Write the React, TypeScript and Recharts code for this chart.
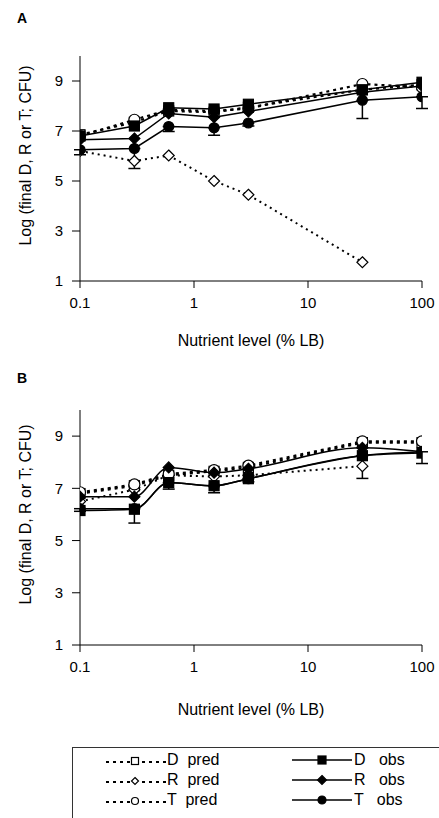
import React from "react"
import { LineChart, Line, XAxis, YAxis, ErrorBar } from "recharts"

// nutrient levels (% LB) shared by both panels
const nutrient = [0.1, 0.3, 0.6, 1.5, 3, 30, 100]
const xTicks = [0.1, 1, 10, 100]
const yTicks = [1, 3, 5, 7, 9]

// panel A
const aDPred = [6.85, 7.35, 7.8, 7.75, 7.95, 8.65, 8.85]
const aRPred = [6.2, 5.8, 6.02, 5.0, 4.45, 1.75, null]
const aTPred = [6.8, 7.45, 7.85, 7.8, 7.9, 8.88, 8.75]
const aDObs = [6.8, 7.2, 7.93, 7.88, 8.07, 8.65, 8.95]
const aRObs = [6.65, 6.7, 7.7, 7.55, 7.78, 8.55, 8.8]
const aTObs = [6.25, 6.3, 7.18, 7.13, 7.32, 8.23, 8.37]
const aTErr = [0.2, 0.8, 0.2, 0.3, 0.12, 0.73, 0.47]

// panel B
const bDPred = [6.8, 7.1, 7.5, 7.65, 7.8, 8.75, 8.75]
const bRPred = [6.5, 6.95, 7.5, 7.45, 7.5, 7.85, null]
const bTPred = [6.85, 7.15, 7.55, 7.7, 7.87, 8.8, 8.8]
const bDObs = [6.15, 6.2, 7.22, 7.1, 7.37, 8.25, 8.35]
const bRObs = [6.68, 6.68, 7.8, 7.6, 7.75, 8.55, 8.4]
const bTObs = [6.22, 6.22, 7.22, 7.1, 7.37, 8.25, 8.4]
const bTErr = [0.1, 0.55, 0.25, 0.27, 0.12, 0.87, 0.45]

const FONT = '"Liberation Sans", Arial, sans-serif'
const yTitle = "Log (final D, R or T; CFU)"
const xTitle = "Nutrient level (% LB)"

type Col = (number | null)[]

// error bars only hang below the observed points
function buildRows(dp: Col, rp: Col, tp: Col, d: Col, r: Col, t: Col, te: number[]) {
  return nutrient.map((x, i) => ({
    x,
    dPred: dp[i],
    rPred: rp[i],
    tPred: tp[i],
    dObs: d[i],
    rObs: r[i],
    tObs: t[i],
    tErr: [te[i], 0],
  }))
}

const rowsA = buildRows(aDPred, aRPred, aTPred, aDObs, aRObs, aTObs, aTErr)
const rowsB = buildRows(bDPred, bRPred, bTPred, bDObs, bRObs, bTObs, bTErr)

type Shape = "square" | "diamond" | "circle"

function glyph(shape: Shape, filled: boolean, cx: number, cy: number, r: number, key?: string) {
  const fill = filled ? "#000" : "#fff"
  if (shape === "square")
    return <rect key={key} x={cx - r} y={cy - r} width={2 * r} height={2 * r} fill={fill} stroke="#000" strokeWidth={1.2} />
  if (shape === "diamond")
    return (
      <polygon
        key={key}
        points={`${cx},${cy - r} ${cx + r},${cy} ${cx},${cy + r} ${cx - r},${cy}`}
        fill={fill}
        stroke="#000"
        strokeWidth={1.2}
      />
    )
  return <circle key={key} cx={cx} cy={cy} r={r} fill={fill} stroke="#000" strokeWidth={1.2} />
}

const marker = (shape: Shape, filled: boolean, r: number) => (p: any) => {
  const key = `${shape}-${filled}-${p.index}`
  if (p.cx == null || p.cy == null || p.value == null) return <g key={key} />
  return glyph(shape, filled, p.cx, p.cy, r, key)
}

const YTitle = (props: any) => {
  const vb = props.viewBox || { x: 0, y: 0, height: 0 }
  const x = vb.x + 5
  const y = vb.y + vb.height / 2 - 13
  return (
    <text x={x} y={y} transform={`rotate(-90 ${x} ${y})`} textAnchor="middle" dominantBaseline="central" fontSize={16} fill="#000" fontFamily={FONT}>
      {yTitle}
    </text>
  )
}

type PanelProps = { rows: any[]; top: number; marginTop: number; plotHeight: number; xAxisHeight: number; smooth: boolean }

function Panel({ rows, top, marginTop, plotHeight, xAxisHeight, smooth }: PanelProps) {
  const height = marginTop + plotHeight + xAxisHeight
  const obsCurve = smooth ? "monotone" : "linear"
  const tick = { fontSize: 15, fill: "#000", fontFamily: FONT }
  return (
    <div style={{ position: "absolute", left: 0, top, width: 439, height }}>
      <LineChart width={439} height={height} data={rows} margin={{ top: marginTop, right: 17, left: 20, bottom: 0 }}>
        <XAxis
          dataKey="x"
          type="number"
          scale="log"
          domain={[0.1, 100]}
          ticks={xTicks}
          allowDataOverflow
          height={xAxisHeight}
          stroke="#000"
          tickSize={7}
          tickMargin={9}
          tick={tick}
          tickFormatter={(v: number) => String(v)}
          label={{ value: xTitle, position: "insideBottom", offset: 6, fontSize: 16, fill: "#000", fontFamily: FONT }}
        />
        <YAxis
          type="number"
          domain={[1, 10]}
          ticks={yTicks}
          allowDataOverflow
          width={60}
          stroke="#000"
          tickSize={8}
          tickMargin={9}
          tick={tick}
          label={<YTitle />}
        />
        <Line dataKey="dPred" type="linear" stroke="#000" strokeWidth={2.2} strokeDasharray="3 4" dot={marker("square", false, 5)} isAnimationActive={false} />
        <Line dataKey="rPred" type="linear" stroke="#000" strokeWidth={2} strokeDasharray="2 4" dot={marker("diamond", false, 5.5)} isAnimationActive={false} />
        <Line dataKey="tPred" type="linear" stroke="#000" strokeWidth={2.2} strokeDasharray="3 4" dot={marker("circle", false, 5.5)} isAnimationActive={false} />
        <Line dataKey="dObs" type={obsCurve} stroke="#000" strokeWidth={1.5} dot={marker("square", true, 5)} isAnimationActive={false} />
        <Line dataKey="rObs" type={obsCurve} stroke="#000" strokeWidth={1.5} dot={marker("diamond", true, 5.5)} isAnimationActive={false} />
        <Line dataKey="tObs" type={obsCurve} stroke="#000" strokeWidth={1.5} dot={marker("circle", true, 5)} isAnimationActive={false}>
          <ErrorBar dataKey="tErr" direction="y" width={6} stroke="#000" strokeWidth={1.5} />
        </Line>
      </LineChart>
    </div>
  )
}

const legendItems: { label: string; shape: Shape; pred: boolean }[] = [
  { label: "D  pred", shape: "square", pred: true },
  { label: "R  pred", shape: "diamond", pred: true },
  { label: "T  pred", shape: "circle", pred: true },
  { label: "D   obs", shape: "square", pred: false },
  { label: "R   obs", shape: "diamond", pred: false },
  { label: "T   obs", shape: "circle", pred: false },
]

function LegendBox() {
  return (
    <div
      style={{
        position: "absolute",
        left: 72,
        top: 747,
        width: 420,
        height: 90,
        borderTop: "1px solid #333",
        borderLeft: "1px solid #333",
        fontFamily: FONT,
        fontSize: 16,
      }}
    >
      {legendItems.map((it, i) => {
        const row = i % 3
        const cy = 12 + row * 20
        const left = it.pred ? 32 : 219
        return (
          <div key={it.label} style={{ position: "absolute", left, top: cy - 10, height: 20, display: "flex", alignItems: "center" }}>
            <svg width={62} height={20} style={{ display: "block" }}>
              {it.pred ? (
                <>
                  <line x1={1} y1={12} x2={25} y2={12} stroke="#000" strokeWidth={2} strokeDasharray="3 4" />
                  <line x1={37} y1={12} x2={61} y2={12} stroke="#000" strokeWidth={2} strokeDasharray="3 4" />
                </>
              ) : (
                <line x1={0} y1={10} x2={60} y2={10} stroke="#000" strokeWidth={1.3} />
              )}
              {it.pred
                ? glyph(it.shape, false, 30, 11, 3.5)
                : glyph(it.shape, true, 30, 10, it.shape === "diamond" ? 4.5 : 4)}
            </svg>
            <span style={{ whiteSpace: "pre", lineHeight: "20px", marginLeft: 0 }}>{it.label}</span>
          </div>
        )
      })}
    </div>
  )
}

export default function App() {
  return (
    <div style={{ position: "absolute", left: 0, top: 0, width: 439, height: 818, background: "#fff", overflow: "hidden", fontFamily: FONT }}>
      <div style={{ position: "absolute", left: 17, top: 11, fontSize: 14, fontWeight: "bold", lineHeight: "14px" }}>A</div>
      <div style={{ position: "absolute", left: 17, top: 371, fontSize: 14, fontWeight: "bold", lineHeight: "14px" }}>B</div>
      <Panel rows={rowsA} top={0} marginTop={56} plotHeight={225} xAxisHeight={71} smooth={false} />
      <Panel rows={rowsB} top={360} marginTop={50} plotHeight={235} xAxisHeight={76} smooth={true} />
      <LegendBox />
    </div>
  )
}
